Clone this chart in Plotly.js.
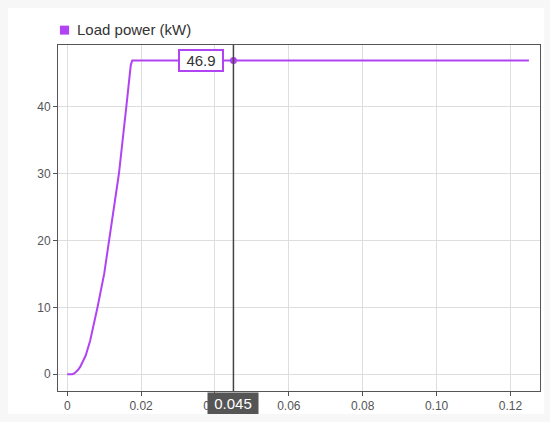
<!DOCTYPE html>
<html>
<head>
<meta charset="utf-8">
<script src="https://cdn.plot.ly/plotly-3.0.1.min.js"></script>
<style>
  body { margin: 0; background: #f7f7f7; }
  #chart { position: absolute; left: 8px; top: 8px; width: 536px; height: 406px; background: #fff; }
</style>
</head>
<body>
<div id="chart"></div>
<script>
// load power trace
const time = [0, 0.0014, 0.002, 0.0025, 0.003, 0.0035, 0.0042, 0.005, 0.0062, 0.0072, 0.0082, 0.01, 0.0114, 0.014, 0.016, 0.0168, 0.0172, 0.0176, 0.045, 0.125];
const power = [0, 0, 0.15, 0.4, 0.7, 1.1, 1.8, 2.8, 5, 7.4, 10, 15, 20, 30, 40, 44.5, 46.2, 46.9, 46.9, 46.9];
const cursorT = 0.045;
const cursorVal = 46.9;
const seriesName = 'Load power (kW)';

const purple = '#b044f2';
const font = 'Liberation Sans, Arial, sans-serif';

const data = [
  {x: time, y: power, type: 'scatter', mode: 'lines', name: seriesName,
   line: {color: purple, width: 2}, hoverinfo: 'skip'},
  {x: [cursorT], y: [cursorVal], type: 'scatter', mode: 'markers',
   marker: {color: purple, size: 7}, hoverinfo: 'skip'}
];

const axisCommon = {
  showline: true, mirror: true, linecolor: '#555', linewidth: 1,
  gridcolor: '#dedede', gridwidth: 1, zeroline: false,
  ticks: 'outside', ticklen: 4, tickcolor: '#555',
  tickfont: {family: font, size: 12, color: '#555'}
};

const layout = {
  width: 536, height: 406,
  margin: {l: 50, r: 4, t: 37, b: 23},
  paper_bgcolor: '#fff', plot_bgcolor: '#fff',
  showlegend: false,
  xaxis: Object.assign({}, axisCommon, {range: [-0.0025, 0.128], tickvals: [0, 0.02, 0.04, 0.06, 0.08, 0.10, 0.12],
    ticktext: ['0', '0.02', '0.04', '0.06', '0.08', '0.10', '0.12']}),
  yaxis: Object.assign({}, axisCommon, {range: [-2.5, 49.2], tickvals: [0, 10, 20, 30, 40]}),
  shapes: [
    {type: 'line', xref: 'x', yref: 'paper', x0: cursorT, x1: cursorT, y0: 0, y1: 1,
     line: {color: '#444', width: 1.5}},
    {type: 'rect', xref: 'paper', yref: 'paper', x0: 0.004, x1: 0.023, y0: 1.03, y1: 1.056,
     fillcolor: purple, line: {width: 0}}
  ],
  annotations: [
    {x: 0.035, y: 1.044, xref: 'paper', yref: 'paper', xanchor: 'left', yanchor: 'middle',
     text: seriesName, showarrow: false,
     font: {family: font, size: 15, color: '#333'}},
    {x: cursorT, y: cursorVal, xref: 'x', yref: 'y', xanchor: 'right', yanchor: 'middle',
     xshift: -9, text: String(cursorVal), showarrow: false, width: 40, height: 17,
     bgcolor: '#fff', bordercolor: purple, borderwidth: 2, borderpad: 1,
     font: {family: font, size: 15, color: '#333'}},
    {x: cursorT, y: 0, xref: 'x', yref: 'paper', xanchor: 'center', yanchor: 'top',
     yshift: -1, text: String(cursorT), showarrow: false, width: 46, height: 17,
     bgcolor: '#555', borderpad: 2,
     font: {family: font, size: 15, color: '#fff'}}
  ]
};

Plotly.newPlot('chart', data, layout, {displayModeBar: false, staticPlot: true});
</script>
</body>
</html>
